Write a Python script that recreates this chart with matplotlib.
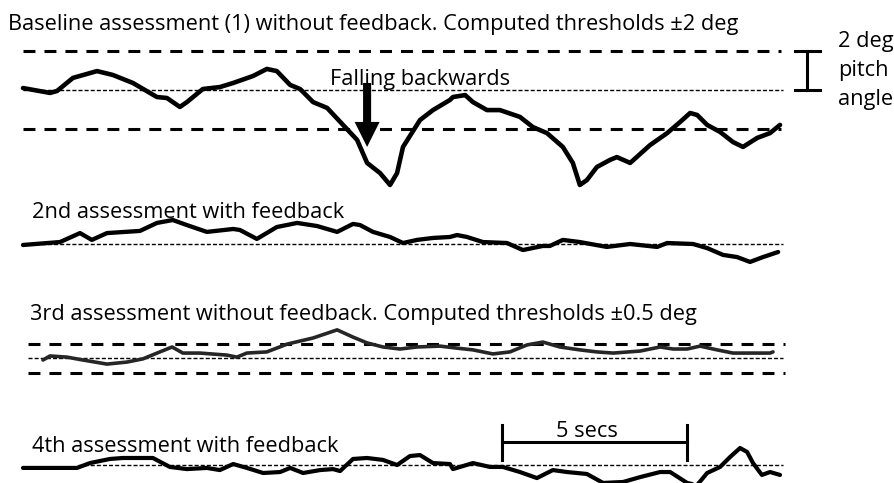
import matplotlib
matplotlib.use("Agg")
import matplotlib.pyplot as plt

plt.rcParams['lines.scale_dashes'] = False
plt.rcParams['font.family'] = ['Open Sans', 'DejaVu Sans']

W, H = 895, 483
DPI = 100

# ---------------- data (time in s, pitch angle in deg) ----------------
t1 = [0, 0.73, 0.92, 1.35, 2.00, 2.43, 2.97, 3.62, 3.89, 4.24, 4.43, 4.86, 5.32, 5.68,
      6.22, 6.59, 6.86, 7.22, 7.49, 7.84, 8.22, 8.65, 9.03, 9.30, 9.65, 9.92, 10.11,
      10.27, 10.73, 11.08, 11.54, 11.62, 11.95, 12.16, 12.54, 12.89, 13.43, 13.78,
      14.16, 14.59, 14.86, 15.05, 15.24, 15.51, 15.86, 16.05, 16.41, 16.95, 17.41,
      17.76, 18.03, 18.22, 18.49, 18.84, 19.19, 19.46, 19.84, 20.19, 20.46]
p1 = [0.10, -0.15, -0.05, 0.62, 0.97, 0.77, 0.36, -0.36, -0.41, -0.87, -0.62, 0.05, 0.15,
      0.36, 0.72, 1.08, 0.97, 0.26, 0.05, -0.62, -0.92, -1.79, -2.56, -3.74, -4.26,
      -4.87, -4.26, -2.92, -1.54, -1.03, -0.51, -0.36, -0.26, -0.62, -1.03, -1.03,
      -1.38, -1.90, -2.21, -2.92, -3.74, -4.87, -4.62, -3.95, -3.59, -3.44, -3.74,
      -2.82, -2.21, -1.64, -1.18, -1.28, -1.79, -2.15, -2.67, -2.92, -2.46, -2.21, -1.79]

t2 = [0, 1.00, 1.54, 1.86, 2.27, 3.16, 3.62, 4.05, 4.43, 4.97, 5.68, 5.86, 6.32, 6.86,
      7.41, 7.95, 8.49, 8.92, 9.11, 9.46, 9.92, 10.27, 10.65, 11.08, 11.54, 11.73,
      12.00, 12.43, 13.08, 13.51, 14.05, 14.24, 14.59, 15.05, 15.78, 16.41, 17.14,
      17.41, 18.11, 18.49, 18.92, 19.30, 19.65, 20.00, 20.41]
p2 = [-0.05, 0.10, 0.56, 0.21, 0.56, 0.67, 1.08, 1.23, 0.97, 0.62, 0.77, 0.72, 0.26,
      0.87, 1.08, 0.92, 0.62, 1.03, 0.97, 0.62, 0.36, 0.05, 0.21, 0.31, 0.36, 0.46,
      0.36, 0.10, 0.05, -0.31, -0.10, -0.10, 0.21, 0.10, -0.15, 0.00, -0.15, 0.05,
      0.00, -0.21, -0.56, -0.67, -0.92, -0.67, -0.41]

t3 = [0.54, 0.73, 1.19, 1.62, 2.27, 2.81, 3.24, 3.70, 4.03, 4.32, 4.78, 5.51, 5.78, 6.05,
      6.59, 7.14, 7.84, 8.49, 8.92, 9.30, 9.73, 10.19, 10.65, 11.27, 11.73, 12.16,
      12.70, 13.16, 13.62, 14.05, 14.51, 15.05, 15.51, 15.95, 16.68, 17.22, 17.57,
      17.95, 18.30, 18.76, 19.19, 19.65, 20.19, 20.27]
p3 = [-0.07, 0.07, 0.03, -0.07, -0.21, -0.14, -0.03, 0.21, 0.38, 0.17, 0.17, 0.10, 0.03,
      0.17, 0.21, 0.48, 0.69, 0.97, 0.72, 0.52, 0.38, 0.31, 0.38, 0.41, 0.34, 0.28,
      0.14, 0.21, 0.45, 0.55, 0.38, 0.28, 0.21, 0.17, 0.24, 0.38, 0.31, 0.31, 0.41,
      0.28, 0.17, 0.17, 0.17, 0.21]

t4 = [0, 0.73, 1.46, 1.81, 2.35, 2.70, 3.51, 3.97, 4.43, 4.97, 5.32, 5.68, 6.05, 6.49,
      6.95, 7.22, 7.57, 8.03, 8.38, 8.57, 8.92, 9.30, 9.73, 10.11, 10.46, 10.73, 11.08,
      11.54, 11.62, 12.16, 12.62, 12.97, 13.43, 13.89, 14.32, 14.70, 15.24, 15.68,
      16.22, 16.68, 17.22, 17.49, 17.95, 18.22, 18.49, 18.84, 19.11, 19.38, 19.57,
      19.73, 19.97, 20.19, 20.46]
p4 = [-0.15, -0.15, -0.15, 0.10, 0.31, 0.36, 0.36, -0.10, -0.21, -0.15, -0.26, 0.05,
      -0.15, -0.41, -0.36, -0.15, -0.41, -0.26, -0.21, -0.31, 0.31, 0.36, 0.26, 0.00,
      0.46, 0.51, 0.10, 0.05, -0.21, 0.10, -0.10, -0.10, -0.36, -0.67, -0.26, -0.36,
      -0.46, -0.92, -0.87, -0.62, -0.36, -0.36, -0.92, -1.03, -0.41, -0.10, 0.41,
      0.87, 0.67, 0.10, -0.51, -0.36, -0.51]

thr1 = 2.0     # computed thresholds, baseline (deg)
thr3 = 0.5     # computed thresholds, 3rd assessment (deg)
line_end = 20.5
scale_deg = 2.0   # scale bar
scale_secs = 5.0  # time scale bar

labels = ["Baseline assessment (1) without feedback. Computed thresholds \u00b12 deg",
          "2nd assessment with feedback",
          "3rd assessment without feedback. Computed thresholds \u00b10.5 deg",
          "4th assessment with feedback"]

# ---------------- layout ----------------
fig = plt.figure(figsize=(W / DPI, H / DPI), dpi=DPI)
X0_PX, PX_PER_S = 23.0, 37.0
XLIM = (-X0_PX / PX_PER_S, (W - X0_PX) / PX_PER_S)
FS = 15.7


def band(top, bottom, center, ppd):
    ax = fig.add_axes([0, 1 - bottom / H, 1, (bottom - top) / H])
    ax.set_xlim(*XLIM)
    ax.set_ylim((center - bottom) / ppd, (center - top) / ppd)
    ax.axis('off')
    return ax


def ftext(x, y, s, **kw):
    fig.text(x / W, 1 - y / H, s, fontsize=FS, color='black', va='baseline', **kw)


ax1 = band(35, 200, 90, 19.5)
ax2 = band(200, 290, 244, 19.5)
ax3 = band(290, 400, 358, 29.0)
ax4 = band(400, 483, 465, 19.5)

thick_dash = dict(color='black', lw=2.2, linestyle=(0, (8.6, 6.5)), solid_capstyle='butt',
                  dash_capstyle='butt')
thin_dash = dict(color='black', lw=1.0, linestyle=(0, (2.9, 1.5)), dash_capstyle='butt')

# baseline
ax1.plot([0, line_end], [thr1, thr1], **thick_dash)
ax1.plot([0, line_end], [-thr1, -thr1], **thick_dash)
ax1.plot([0, line_end + 0.05], [0, 0], **thin_dash)
ax1.plot(t1, p1, color='black', lw=3.3, solid_joinstyle='round', solid_capstyle='round')

# 2nd
ax2.plot([0, line_end + 0.05], [0, 0], **thin_dash)
ax2.plot(t2, p2, color='black', lw=3.1, solid_joinstyle='round', solid_capstyle='round')

# 3rd
ax3.plot([0.14, line_end + 0.1], [thr3, thr3], **thick_dash)
ax3.plot([0.14, line_end + 0.1], [-thr3, -thr3], **thick_dash)
ax3.plot([0.14, line_end + 0.05], [0, 0], **thin_dash)
ax3.plot(t3, p3, color='#262626', lw=2.6, solid_joinstyle='round', solid_capstyle='round')

# 4th
ax4.plot([1.5, line_end + 0.05], [0, 0], **thin_dash)
ax4.plot(t4, p4, color='black', lw=3.0, solid_joinstyle='round', solid_capstyle='round')

# 2 deg scale bar
xb = 21.19
ax1.plot([xb, xb], [0, scale_deg], color='black', lw=2.2, clip_on=False)
ax1.plot([xb - 0.33, xb + 0.36], [0, 0], color='black', lw=2.2, clip_on=False)
ax1.plot([xb - 0.33, xb + 0.36], [scale_deg, scale_deg], color='black', lw=2.2, clip_on=False)

# falling arrow
ax1.annotate('', xy=(9.30, -2.92), xytext=(9.30, 0.36),
             arrowprops=dict(arrowstyle='simple,head_length=18,head_width=18,tail_width=5.8',
                             mutation_scale=1, color='black', lw=0, shrinkA=0, shrinkB=0))

# 5 secs scale bar
xs0 = 12.95
ax4.plot([xs0, xs0 + scale_secs], [1.18, 1.18], color='black', lw=2.2, clip_on=False)
ax4.plot([xs0, xs0], [0.26, 2.05], color='black', lw=2.2, clip_on=False)
ax4.plot([xs0 + scale_secs, xs0 + scale_secs], [0.26, 2.05], color='black', lw=2.2, clip_on=False)

# texts
ftext(8, 30, labels[0])
ftext(32, 218, labels[1])
ftext(30, 320, labels[2])
ftext(32, 452, labels[3])
ftext(330, 85, "Falling backwards")
ftext(838, 47, "2 deg")
ftext(838, 76, "pitch")
ftext(838, 105, "angle")
ftext(587, 437, "5 secs", ha='center')

fig.savefig("out.png", dpi=DPI, facecolor='white')
